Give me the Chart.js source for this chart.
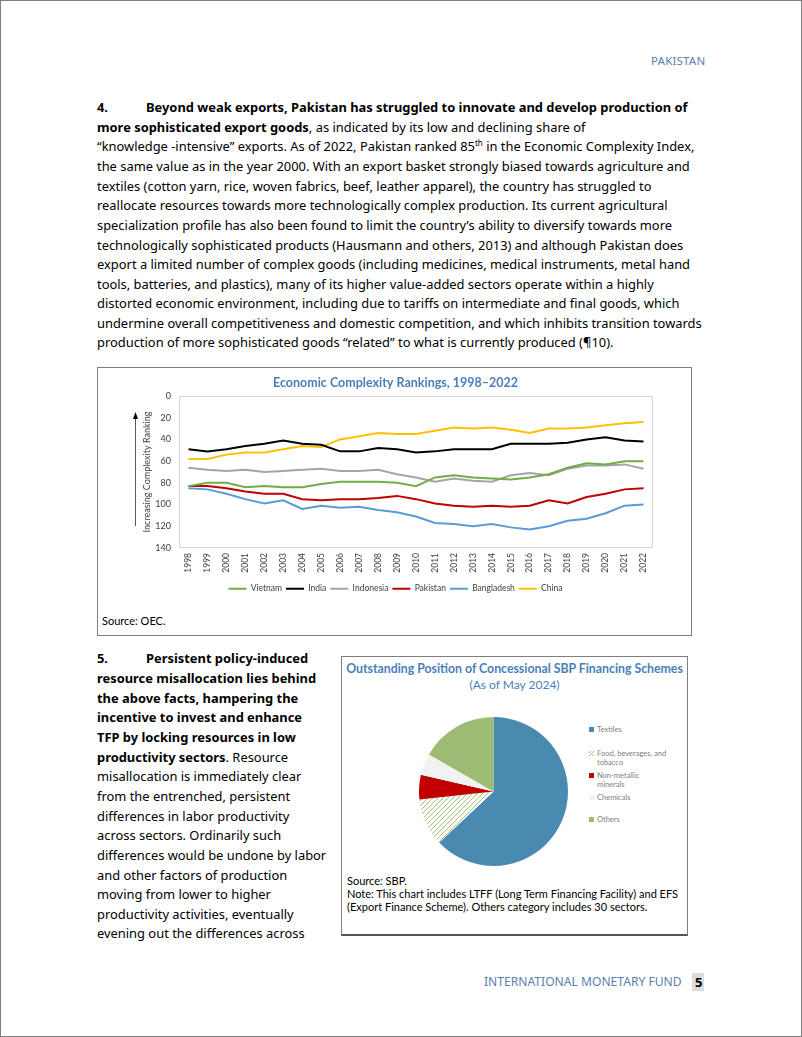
<!DOCTYPE html>
<html>
<head>
<meta charset="utf-8">
<script src="https://cdn.jsdelivr.net/npm/chart.js@4.4.1/dist/chart.umd.min.js"></script>
<style>
  body { margin: 0; background: #fff; }
  #page { position: relative; width: 800px; height: 1035px; border: 1px solid #808080; font-family: "Noto Sans", sans-serif; color: #000; overflow: hidden; }
  .ln { position: absolute; left: 96px; white-space: nowrap; font-size: 12.9px; line-height: 20px; height: 20px; }
  .num { display: inline-block; width: 49px; }
  b { font-weight: 700; }
  sup { font-size: 8px; line-height: 0; vertical-align: 5px; }
  .box { position: absolute; border: 1px solid #7f7f7f; }
  .ctitle { position: absolute; white-space: nowrap; font-family: Lato, sans-serif; color: #4a7ebb; }
  .src { position: absolute; white-space: nowrap; font-family: Lato, sans-serif; font-size: 11px; line-height: 13px; }
  .lg { position: absolute; left: 588px; font-family: Lato, sans-serif; font-size: 7.5px; line-height: 9px; color: #808080; white-space: nowrap; }
  .lg i { position: absolute; left: 0; top: 2px; width: 5px; height: 5px; }
  .lg span { position: absolute; left: 8px; top: 0; }
</style>
</head>
<body>
<div id="page">
  <div style="position:absolute;left:650px;top:52px;font-size:11.5px;color:#5a7fae;letter-spacing:0.2px;">PAKISTAN</div>

  <div class="ln" style="top:96px"><b><span class="num">4.</span>Beyond weak exports, Pakistan has struggled to innovate and develop production of</b></div>
  <div class="ln" style="top:116px"><b>more sophisticated export goods</b>, as indicated by its low and declining share of</div>
  <div class="ln" style="top:135px">“knowledge -intensive” exports. As of 2022, Pakistan ranked 85<sup>th</sup> in the Economic Complexity Index,</div>
  <div class="ln" style="top:155px">the same value as in the year 2000. With an export basket strongly biased towards agriculture and</div>
  <div class="ln" style="top:175px">textiles (cotton yarn, rice, woven fabrics, beef, leather apparel), the country has struggled to</div>
  <div class="ln" style="top:194px">reallocate resources towards more technologically complex production. Its current agricultural</div>
  <div class="ln" style="top:214px">specialization profile has also been found to limit the country’s ability to diversify towards more</div>
  <div class="ln" style="top:234px">technologically sophisticated products (Hausmann and others, 2013) and although Pakistan does</div>
  <div class="ln" style="top:253px">export a limited number of complex goods (including medicines, medical instruments, metal hand</div>
  <div class="ln" style="top:273px">tools, batteries, and plastics), many of its higher value-added sectors operate within a highly</div>
  <div class="ln" style="top:292px">distorted economic environment, including due to tariffs on intermediate and final goods, which</div>
  <div class="ln" style="top:312px">undermine overall competitiveness and domestic competition, and which inhibits transition towards</div>
  <div class="ln" style="top:331px">production of more sophisticated goods “related” to what is currently produced (¶10).</div>

  <!-- figure 1 -->
  <div class="box" style="left:96px;top:366px;width:593px;height:267px;"></div>
  <div style="position:absolute;left:97px;top:367px;width:592px;height:235px;">
    <canvas id="ecChart" width="592" height="235"></canvas>
  </div>
  <div class="src" style="left:101px;top:613px;">Source: OEC.</div>

  <!-- paragraph 5 -->
  <div class="ln" style="top:647px"><b><span class="num">5.</span>Persistent policy-induced</b></div>
  <div class="ln" style="top:667px"><b>resource misallocation lies behind</b></div>
  <div class="ln" style="top:687px"><b>the above facts, hampering the</b></div>
  <div class="ln" style="top:706px"><b>incentive to invest and enhance</b></div>
  <div class="ln" style="top:726px"><b>TFP by locking resources in low</b></div>
  <div class="ln" style="top:746px"><b>productivity sectors</b>. Resource</div>
  <div class="ln" style="top:765px">misallocation is immediately clear</div>
  <div class="ln" style="top:785px">from the entrenched, persistent</div>
  <div class="ln" style="top:805px">differences in labor productivity</div>
  <div class="ln" style="top:824px">across sectors. Ordinarily such</div>
  <div class="ln" style="top:844px">differences would be undone by labor</div>
  <div class="ln" style="top:864px">and other factors of production</div>
  <div class="ln" style="top:883px">moving from lower to higher</div>
  <div class="ln" style="top:903px">productivity activities, eventually</div>
  <div class="ln" style="top:922px">evening out the differences across</div>

  <!-- figure 2 -->
  <div class="box" style="left:340px;top:655px;width:345px;height:277px;border-bottom:2px solid #555;"></div>
  <div class="ctitle" style="left:340px;width:347px;text-align:center;top:660px;font-size:12.3px;font-weight:700;">Outstanding Position of Concessional SBP Financing Schemes</div>
  <div class="ctitle" style="left:340px;width:347px;text-align:center;top:676px;font-size:12px;">(As of May 2024)</div>
  <div style="position:absolute;left:418px;top:716px;width:149px;height:149px;">
    <canvas id="sbpChart" width="149" height="149"></canvas>
  </div>
  <div id="pieLegend"></div>
  <div class="src" style="left:346px;top:873px;">Source: SBP.</div>
  <div class="src" style="left:346px;top:886px;">Note: This chart includes LTFF (Long Term Financing Facility) and EFS</div>
  <div class="src" style="left:346px;top:899px;">(Export Finance Scheme). Others category includes 30 sectors.</div>

  <div style="position:absolute;left:483px;top:972px;font-size:12.1px;color:#5a7fae;">INTERNATIONAL MONETARY FUND</div>
  <div style="position:absolute;left:691px;top:972px;width:12px;height:18px;background:#dcdcdc;"></div>
  <div style="position:absolute;left:694px;top:972px;font-size:13px;font-weight:700;">5</div>
</div>

<script>
// Economic complexity rankings (lower = more complex)
const years = ['1998', '1999', '2000', '2001', '2002', '2003', '2004', '2005', '2006', '2007', '2008', '2009',
  '2010', '2011', '2012', '2013', '2014', '2015', '2016', '2017', '2018', '2019', '2020', '2021', '2022'];
const vietnam    = [83, 80, 80, 84, 83, 84, 84, 81, 79, 79, 79, 80, 83, 75, 73, 75, 76, 77, 75, 72, 66, 62, 63, 60, 60];
const india      = [49, 51, 49, 46, 44, 41, 44, 45, 51, 51, 48, 49, 52, 51, 49, 49, 49, 44, 44, 44, 43, 40, 38, 41, 42];
const indonesia  = [66, 68, 69, 68, 70, 69, 68, 67, 69, 69, 68, 72, 75, 79, 76, 78, 79, 73, 71, 73, 67, 64, 64, 63, 67];
const pakistan   = [83, 83, 85, 88, 90, 90, 95, 96, 95, 95, 94, 92, 95, 99, 101, 102, 101, 102, 101, 96, 99, 93, 90, 86, 85];
const bangladesh = [85, 86, 90, 95, 99, 96, 104, 101, 103, 102, 105, 107, 111, 117, 118, 120, 118, 121, 123, 120, 115, 113, 108, 101, 100];
const china      = [58, 58, 54, 52, 52, 49, 46, 47, 40, 37, 34, 35, 35, 32, 29, 30, 29, 31, 34, 30, 30, 29, 27, 25, 24];
const yTicks = [0, 20, 40, 60, 80, 100, 120, 140];

// SBP concessional financing, share of outstanding position (%)
const sectors = ['Textiles', 'Food, beverages, and tobacco', 'Non-metallic minerals', 'Chemicals', 'Others'];
const shares  = [63, 10.3, 5.3, 4.7, 16.7];

const plotFrame = {
  id: 'plotFrame',
  beforeDatasetsDraw(chart) {
    const { ctx, chartArea: a } = chart;
    ctx.save();
    ctx.strokeStyle = '#d9d9d9';
    ctx.lineWidth = 1;
    ctx.strokeRect(a.left + 0.5, a.top + 0.5, a.width - 1, a.height - 1);
    // up arrow next to the axis title
    const x = a.left - 44 + 0.5;
    ctx.strokeStyle = '#595959';
    ctx.beginPath();
    ctx.moveTo(x, a.bottom - 22);
    ctx.lineTo(x, a.top + 22);
    ctx.stroke();
    ctx.fillStyle = '#000';
    ctx.beginPath();
    ctx.moveTo(x, a.top + 16);
    ctx.lineTo(x - 2.5, a.top + 23);
    ctx.lineTo(x + 2.5, a.top + 23);
    ctx.closePath();
    ctx.fill();
    ctx.restore();
  }
};

function series(label, values, color) {
  return { label: label, data: values, borderColor: color, backgroundColor: color, borderWidth: 2,
    pointRadius: 0, tension: 0, fill: false };
}

new Chart(document.getElementById('ecChart'), {
  type: 'line',
  data: {
    labels: years,
    datasets: [
      series('Vietnam', vietnam, '#70ad47'),
      series('India', india, '#000000'),
      series('Indonesia', indonesia, '#a5a5a5'),
      series('Pakistan', pakistan, '#c00000'),
      series('Bangladesh', bangladesh, '#5b9bd5'),
      series('China', china, '#ffc000')
    ]
  },
  options: {
    responsive: false,
    animation: false,
    layout: { padding: { left: 40, right: 37, top: 0, bottom: 0 } },
    plugins: {
      title: {
        display: true,
        text: 'Economic Complexity Rankings, 1998–2022',
        color: '#4a7ebb',
        font: { family: 'Lato', size: 12.5, weight: 'bold' },
        padding: { top: 7, bottom: 6 }
      },
      legend: {
        position: 'bottom',
        labels: {
          usePointStyle: true,
          pointStyle: 'line',
          pointStyleWidth: 18,
          color: '#404040',
          font: { family: 'Lato', size: 8.5 },
          padding: 4
        }
      },
      tooltip: { enabled: false }
    },
    scales: {
      x: {
        offset: true,
        grid: { display: false, drawTicks: false },
        border: { display: false },
        ticks: { color: '#404040', font: { family: 'Lato', size: 8.5 }, minRotation: 90, maxRotation: 90, padding: 5, autoSkip: false },
        afterFit(scale) { scale.height = 32.5; }
      },
      y: {
        reverse: true,
        min: 0,
        max: 140,
        afterBuildTicks(scale) { scale.ticks = yTicks.map(v => ({ value: v })); },
        grid: { display: false, drawTicks: false },
        border: { display: false },
        ticks: { color: '#404040', font: { family: 'Lato', size: 9 }, padding: 8 },
        title: { display: true, text: 'Increasing Complexity Ranking', color: '#404040', font: { family: 'Lato', size: 9 }, padding: { top: 4, bottom: 0 } },
        afterFit(scale) { scale.width = 41; }
      }
    }
  },
  plugins: [plotFrame]
});

// hatch for the food slice
function hatch(color) {
  const c = document.createElement('canvas');
  c.width = 5; c.height = 5;
  const g = c.getContext('2d');
  g.fillStyle = '#fff';
  g.fillRect(0, 0, 5, 5);
  g.strokeStyle = color;
  g.lineWidth = 1;
  g.beginPath();
  g.moveTo(0, 5); g.lineTo(5, 0);
  g.moveTo(-1, 1); g.lineTo(1, -1);
  g.moveTo(4, 6); g.lineTo(6, 4);
  g.stroke();
  return g.createPattern(c, 'repeat');
}

const pieColors = ['#4a8ab0', hatch('#a3c07a'), '#c00000', '#f2f2f2', '#9dbb72'];

new Chart(document.getElementById('sbpChart'), {
  type: 'pie',
  data: {
    labels: sectors,
    datasets: [{ data: shares, backgroundColor: pieColors, borderWidth: 0 }]
  },
  options: {
    responsive: false,
    animation: false,
    plugins: { legend: { display: false }, tooltip: { enabled: false } }
  }
});

// legend beside the pie
const legendRows = [
  { top: 724, lines: ['Textiles'], swatch: '#4a8ab0' },
  { top: 748, lines: ['Food, beverages, and', 'tobacco'], swatch: 'hatch' },
  { top: 770, lines: ['Non-metallic', 'minerals'], swatch: '#c00000' },
  { top: 792, lines: ['Chemicals'], swatch: '#f2f2f2' },
  { top: 814, lines: ['Others'], swatch: '#9dbb72' }
];
const pieLegend = document.getElementById('pieLegend');
legendRows.forEach(row => {
  const d = document.createElement('div');
  d.className = 'lg';
  d.style.top = row.top + 'px';
  const sw = document.createElement('i');
  if (row.swatch === 'hatch') {
    sw.style.background = 'repeating-linear-gradient(135deg, #fff 0 1px, #a3c07a 1px 2px)';
  } else {
    sw.style.background = row.swatch;
  }
  d.appendChild(sw);
  const t = document.createElement('span');
  t.innerHTML = row.lines.join('<br>');
  d.appendChild(t);
  pieLegend.appendChild(d);
});
</script>
</body>
</html>
